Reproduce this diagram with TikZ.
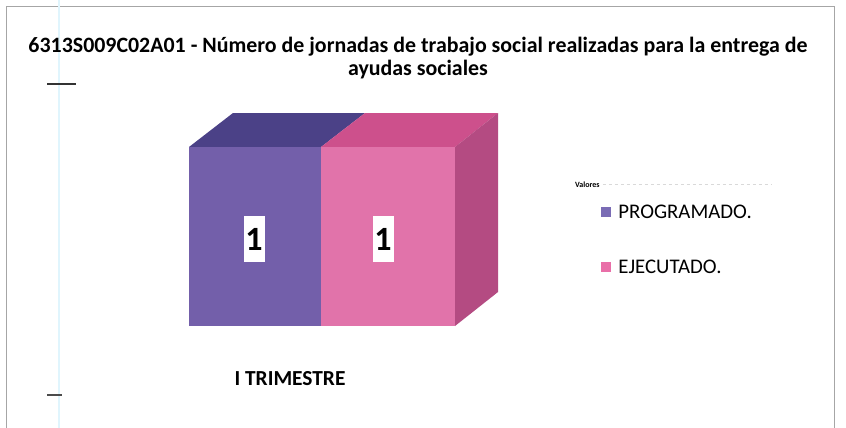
\documentclass[tikz,border=0pt]{standalone}
\usepackage{fontspec}
\setmainfont{Carlito}
\usetikzlibrary{positioning}
\definecolor{progfront}{HTML}{735FAA}
\definecolor{progtop}{HTML}{4B4187}
\definecolor{ejecfront}{HTML}{E173AA}
\definecolor{ejectop}{HTML}{CD508C}
\definecolor{ejecside}{HTML}{B44B82}
\definecolor{proglegend}{HTML}{7A6CB5}
\definecolor{ejeclegend}{HTML}{E96FA8}
\begin{document}
\begin{tikzpicture}[x=1pt, y=-1pt,
    titletext/.style = {align=center, font=\bfseries\fontsize{21.9}{23}\selectfont},
    barlabel/.style = {fill=white, inner sep=0pt, minimum width=21pt, minimum height=46pt, font=\bfseries\fontsize{34}{34}\selectfont},
    legendbox/.style = {minimum size=10pt, inner sep=0pt},
    legendtext/.style = {inner sep=0pt, font=\fontsize{20.8}{22}\selectfont}]
      \useasboundingbox (0,0) rectangle (846,428);
      \fill[white] (0,0) rectangle (846,428);
      % frame of the scanned page
      \draw[gray!70, line width=1pt] (6,428) -- (6,7) -- (834,7) -- (834,428);
      \draw[cyan!12, line width=1.5pt] (59,0) -- (59,428);
      \draw[black!80, line width=1.5pt] (47,84) -- (76,84);
      \draw[black!70, line width=1.5pt] (47,395) -- (62,395);

      \node[titletext] (title) at (418,58) {6313S009C02A01 - Número de jornadas de trabajo social realizadas para la entrega de\\ayudas sociales};

      % bars
      \fill[progtop] (189,147) -- (233,113) -- (365,113) -- (321,147) -- cycle;
      \fill[ejectop] (321,147) -- (365,113) -- (498,113) -- (455,147) -- cycle;
      \fill[ejecside] (455,147) -- (498,113) -- (498,292) -- (455,326) -- cycle;
      \fill[progfront] (189,147) rectangle (321,326);
      \fill[ejecfront] (321,147) rectangle (455,326);

      \node[barlabel] (progval) at (254,239) {1};
      \node[barlabel] (ejecval) at (383,239) {1};

      \node[font=\bfseries\fontsize{21.4}{21.4}\selectfont] (trim) at (290,379) {I TRIMESTRE};

      % legend
      \node[anchor=west, inner sep=0pt, font=\bfseries\fontsize{8}{8}\selectfont] (valores) at (575,185) {Valores};
      \draw[gray!30, dashed, line width=1pt] (valores.east) ++(3,-1) -- (772,184);
      \node[legendbox, fill=proglegend] (progbox) at (606,212) {};
      \node[legendtext, right=7pt of progbox] (progtext) {PROGRAMADO.};
      \node[legendbox, fill=ejeclegend] (ejecbox) at (606,267) {};
      \node[legendtext, right=7pt of ejecbox] (ejectext) {EJECUTADO.};
\end{tikzpicture}
\end{document}
